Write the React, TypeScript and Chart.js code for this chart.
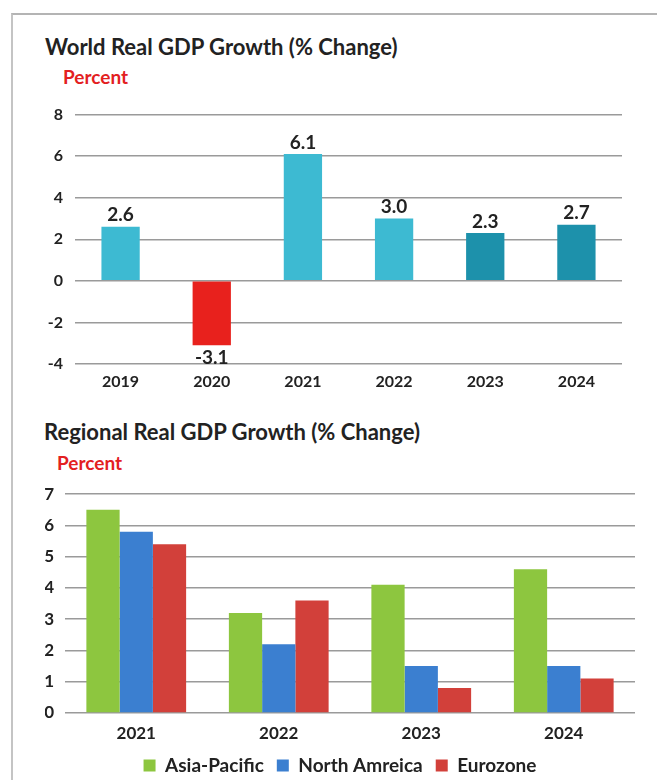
import React, { useEffect, useRef } from 'react';
import { Chart, registerables } from 'chart.js';

Chart.register(...registerables);

// ---- Data ----
const worldYears = ['2019', '2020', '2021', '2022', '2023', '2024'];
const worldGrowth = [2.6, -3.1, 6.1, 3.0, 2.3, 2.7];
const worldColors = ['#3dbad2', '#e8211d', '#3dbad2', '#3dbad2', '#1d91ab', '#1d91ab'];
const worldTicks = [-4, -2, 0, 2, 4, 6, 8];

const regionYears = ['2021', '2022', '2023', '2024'];
const regionNames = ['Asia-Pacific', 'North Amreica', 'Eurozone'];
const asiaPacific = [6.5, 3.2, 4.1, 4.6];
const northAmerica = [5.8, 2.2, 1.5, 1.5];
const eurozone = [5.4, 3.6, 0.8, 1.1];
const regionColors = ['#8dc63f', '#3b7fd0', '#d2403a'];
const regionTicks = [0, 1, 2, 3, 4, 5, 6, 7];

const FONT = 'Lato, "Open Sans", sans-serif';

const valueLabels = {
  id: 'valueLabels',
  afterDatasetsDraw(chart: any) {
    const ctx = chart.ctx;
    ctx.save();
    ctx.font = `bold 19px ${FONT}`;
    ctx.fillStyle = '#222';
    ctx.textAlign = 'center';
    chart.data.datasets.forEach((ds: any, di: number) => {
      const meta = chart.getDatasetMeta(di);
      meta.data.forEach((el: any, i: number) => {
        const v = ds.data[i];
        const txt = v.toFixed(1);
        if (v >= 0) {
          ctx.textBaseline = 'bottom';
          ctx.fillText(txt, el.x, el.y - 2);
        } else {
          ctx.textBaseline = 'top';
          ctx.fillText(txt, el.x, el.y + 3);
        }
      });
    });
    ctx.restore();
  },
};

export default function App() {
  const ref1 = useRef<HTMLCanvasElement>(null);
  const ref2 = useRef<HTMLCanvasElement>(null);

  useEffect(() => {
    const tickFont1 = { family: FONT, size: 16, weight: 'bold' as const };
    const tickFont2 = { family: FONT, size: 17, weight: 'bold' as const };
    const c1 = new Chart(ref1.current!, {
      type: 'bar',
      data: {
        labels: worldYears,
        datasets: [
          {
            data: worldGrowth,
            backgroundColor: worldColors,
            barPercentage: 0.42,
            categoryPercentage: 1,
          },
        ],
      },
      options: {
        animation: false,
        responsive: false,
        maintainAspectRatio: false,
        layout: { padding: { top: 0, right: 35, left: 0, bottom: 0 } },
        plugins: { legend: { display: false }, tooltip: { enabled: false } },
        scales: {
          x: {
            grid: { display: false, drawTicks: false },
            border: { display: false },
            ticks: { color: '#222', font: tickFont1, padding: 8 },
            afterFit: (s: any) => {
              s.height = 36;
            },
          },
          y: {
            min: worldTicks[0],
            max: worldTicks[worldTicks.length - 1],
            ticks: { stepSize: worldTicks[1] - worldTicks[0], color: '#222', font: tickFont1, padding: 12 },
            grid: { color: '#9a9a9a', lineWidth: 1.5, drawTicks: false },
            border: { display: false },
            afterFit: (s: any) => {
              s.width = 75;
            },
          },
        },
      },
      plugins: [valueLabels],
    });

    const regionData = [asiaPacific, northAmerica, eurozone];
    const c2 = new Chart(ref2.current!, {
      type: 'bar',
      data: {
        labels: regionYears,
        datasets: regionNames.map((name, i) => ({
          label: name,
          data: regionData[i],
          backgroundColor: regionColors[i],
          barPercentage: 1,
          categoryPercentage: 0.7,
        })),
      },
      options: {
        animation: false,
        responsive: false,
        maintainAspectRatio: false,
        layout: { padding: { top: 0, right: 22, left: 45, bottom: 0 } },
        plugins: {
          tooltip: { enabled: false },
          legend: {
            position: 'bottom',
            labels: {
              boxWidth: 12,
              boxHeight: 12,
              padding: 13,
              color: '#222',
              font: { family: FONT, size: 19, weight: 'bold' },
            },
          },
        },
        scales: {
          x: {
            grid: { display: false, drawTicks: false },
            border: { display: false },
            ticks: { color: '#222', font: tickFont2, padding: 10 },
            afterFit: (s: any) => {
              s.height = 30;
            },
          },
          y: {
            min: regionTicks[0],
            max: regionTicks[regionTicks.length - 1],
            ticks: { stepSize: 1, color: '#222', font: tickFont2, padding: 11 },
            grid: { color: '#9a9a9a', lineWidth: 1.5, drawTicks: false },
            border: { display: false },
            afterFit: (s: any) => {
              s.width = 20;
            },
          },
        },
      },
    });

    return () => {
      c1.destroy();
      c2.destroy();
    };
  }, []);

  const titleStyle: React.CSSProperties = {
    position: 'absolute',
    fontFamily: FONT,
    fontWeight: 700,
    fontSize: 22,
    lineHeight: '24px',
    color: '#222',
    whiteSpace: 'nowrap',
  };
  const unitStyle: React.CSSProperties = {
    position: 'absolute',
    fontFamily: FONT,
    fontWeight: 700,
    fontSize: 19,
    lineHeight: '20px',
    color: '#e3201f',
    whiteSpace: 'nowrap',
  };

  return (
    <div
      style={{
        position: 'absolute',
        left: 0,
        top: 0,
        width: 657,
        height: 780,
        background: '#fff',
        overflow: 'hidden',
      }}
    >
      <div
        style={{
          position: 'absolute',
          left: 11,
          top: 13,
          width: 660,
          height: 780,
          borderTop: '2px solid #b4b4b4',
          borderLeft: '2px solid #c4c4c4',
        }}
      />
      <div style={{ ...titleStyle, left: 45, top: 35 }}>World Real GDP Growth (% Change)</div>
      <div style={{ ...unitStyle, left: 63, top: 67 }}>Percent</div>
      <canvas ref={ref1} width={657} height={307} style={{ position: 'absolute', left: 0, top: 93 }} />
      <div style={{ ...titleStyle, left: 44, top: 420 }}>Regional Real GDP Growth (% Change)</div>
      <div style={{ ...unitStyle, left: 57, top: 453 }}>Percent</div>
      <canvas ref={ref2} width={657} height={312} style={{ position: 'absolute', left: 0, top: 473 }} />
    </div>
  );
}
